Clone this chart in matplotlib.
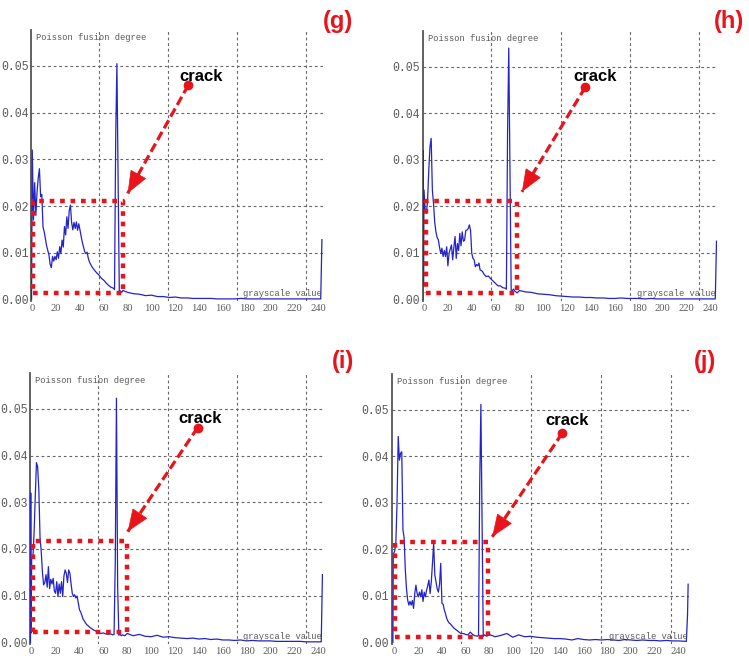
import matplotlib
matplotlib.use('Agg')
import matplotlib.pyplot as plt

# ---------------- data ----------------
gray_x = [0, 1, 2, 3, 4, 5, 6, 7, 8, 9,
          10, 11, 12, 13, 14, 15, 16, 17, 18, 19,
          20, 21, 22, 23, 24, 25, 26, 27, 28, 29,
          30, 31, 32, 33, 34, 35, 36, 37, 38, 39,
          40, 41, 42, 43, 44, 45, 46, 47, 48, 49,
          50, 52, 54, 56, 58, 60, 62, 64, 66, 68,
          69, 70, 71, 72, 73, 74, 75, 76, 78, 80,
          85, 90, 95, 100, 105, 110, 115, 120, 125, 130,
          135, 140, 145, 150, 155, 160, 165, 170, 175, 180,
          185, 190, 195, 200, 205, 210, 215, 220, 225, 230,
          235, 240]

g_y = [0.032, 0.017, 0.025, 0.018, 0.023, 0.026, 0.028, 0.022, 0.0225, 0.0155,
       0.0145, 0.013, 0.0115, 0.0105, 0.0095, 0.0075, 0.0068, 0.0092, 0.0082, 0.0092,
       0.0085, 0.0102, 0.0088, 0.0113, 0.0098, 0.0127, 0.0112, 0.0156, 0.0138, 0.0177,
       0.0152, 0.019, 0.0202, 0.0165, 0.0149, 0.0165, 0.0152, 0.0166, 0.0148, 0.0162,
       0.0149, 0.0135, 0.0122, 0.0112, 0.0102, 0.0098, 0.0101, 0.0088, 0.008, 0.0075,
       0.007, 0.0063, 0.0057, 0.0052, 0.0045, 0.0041, 0.0035, 0.003, 0.0026, 0.0024,
       0.0021, 0.035, 0.0505, 0.026, 0.0016, 0.0018, 0.0015, 0.0019, 0.0017, 0.0015,
       0.0012, 0.0011, 0.0008, 0.0009, 0.0006, 0.0006, 0.0004, 0.0005, 0.0003, 0.0003,
       0.0002, 0.0002, 0.0002, 0.0002, 0.0001, 0.0001, 0.0001, 0.0001, 0.0002, 0.0001,
       0.0001, 0.0001, 0.0001, 0.0001, 0.0001, 0.0001, 0.0001, 0.0001, 0.0001, 0.0001,
       0.0001, 0.0001]

h_y = [0.0235, 0.019, 0.0185, 0.0213, 0.0278, 0.0328, 0.0346, 0.0235, 0.0205, 0.0165,
       0.0145, 0.0133, 0.0128, 0.0112, 0.0099, 0.011, 0.0092, 0.0105, 0.0092, 0.0113,
       0.0072, 0.0099, 0.0108, 0.0117, 0.0085, 0.0112, 0.0135, 0.0088, 0.012, 0.0105,
       0.0142, 0.0115, 0.0145, 0.0125, 0.0127, 0.0148, 0.0149, 0.0152, 0.016, 0.0148,
       0.0099, 0.0088, 0.0085, 0.007, 0.0075, 0.0072, 0.0078, 0.0063, 0.0062, 0.006,
       0.0055, 0.0049, 0.005, 0.0044, 0.0039, 0.0034, 0.0029, 0.0029, 0.0025, 0.0024,
       0.0022, 0.036, 0.054, 0.028, 0.002, 0.0019, 0.0022, 0.0018, 0.0014, 0.0019,
       0.0016, 0.0015, 0.0012, 0.0011, 0.001, 0.0008, 0.0007, 0.0006, 0.0005, 0.0005,
       0.0004, 0.0004, 0.0003, 0.0003, 0.0002, 0.0002, 0.0003, 0.0002, 0.0002, 0.0002,
       0.0001, 0.0002, 0.0001, 0.0001, 0.0001, 0.0001, 0.0001, 0.0001, 0.0001, 0.0001,
       0.0001, 0.0001]

i_y = [0.0184, 0.018, 0.0234, 0.0312, 0.0385, 0.0376, 0.0326, 0.0225, 0.0195, 0.015,
       0.0123, 0.0128, 0.0145, 0.0118, 0.0162, 0.0115, 0.0135, 0.0125, 0.0137, 0.011,
       0.0105, 0.013, 0.0098, 0.0125, 0.0105, 0.013, 0.0098, 0.0142, 0.0155, 0.0148,
       0.0128, 0.0155, 0.0148, 0.0125, 0.0105, 0.0098, 0.0102, 0.0095, 0.0099, 0.0085,
       0.007, 0.0065, 0.0058, 0.005, 0.0046, 0.0042, 0.0038, 0.0036, 0.0034, 0.0031,
       0.003, 0.0026, 0.0024, 0.0021, 0.0019, 0.002, 0.0018, 0.0017, 0.0018, 0.0016,
       0.0017, 0.017, 0.0523, 0.012, 0.0015, 0.0018, 0.0014, 0.0016, 0.0014, 0.0019,
       0.0014, 0.0017, 0.0013, 0.0012, 0.0015, 0.0011, 0.0012, 0.001, 0.0009, 0.0008,
       0.0009, 0.0007, 0.0008, 0.0006, 0.0007, 0.0005, 0.0005, 0.0004, 0.0005, 0.0003,
       0.0004, 0.0003, 0.0003, 0.0003, 0.0002, 0.0002, 0.0002, 0.0002, 0.0002, 0.0001,
       0.0001, 0.0001]

j_y = [0.0196, 0.0215, 0.03, 0.0443, 0.0392, 0.0407, 0.041, 0.0242, 0.0225, 0.0156,
       0.0115, 0.0091, 0.008, 0.0088, 0.008, 0.009, 0.0073, 0.0105, 0.0123, 0.0105,
       0.0098, 0.0108, 0.0098, 0.0113, 0.0088, 0.0108, 0.0098, 0.0112, 0.0122, 0.0134,
       0.0105, 0.013, 0.017, 0.0213, 0.0145, 0.013, 0.0115, 0.0108, 0.0125, 0.017,
       0.0084, 0.0082, 0.007, 0.0062, 0.0052, 0.0046, 0.0042, 0.004, 0.0037, 0.0034,
       0.0031, 0.0027, 0.0023, 0.0019, 0.0019, 0.0017, 0.0016, 0.0022, 0.0017, 0.0014,
       0.0014, 0.0013, 0.0015, 0.034, 0.0512, 0.026, 0.0013, 0.0016, 0.0013, 0.0017,
       0.0012, 0.0015, 0.0019, 0.0011, 0.0016, 0.0012, 0.0013, 0.0011, 0.001, 0.0009,
       0.0008, 0.0008, 0.0007, 0.0005, 0.0008, 0.0006, 0.0005, 0.0006, 0.0005, 0.0006,
       0.0005, 0.0004, 0.0006, 0.0005, 0.0004, 0.0005, 0.0004, 0.0004, 0.0003, 0.0004,
       0.0003, 0.0003]

# first and last bins (drawn at the axis edges)
g_lead_x, g_lead_y = [-0.6], [0.0]
h_lead_x, h_lead_y = [-1.0, -0.8, -0.4], [0.0, 0.032, 0.003]
i_lead_x, i_lead_y = [-1.0, -0.8, -0.5], [0.0, 0.032, 0.002]
j_lead_x, j_lead_y = [-1.5, -1.2], [0.0, 0.019]
g_edge_x, g_edge_y = [242, 243], [0.0001, 0.0128]
h_edge_x, h_edge_y = [244, 245], [0.0001, 0.0125]
i_edge_x, i_edge_y = [242.5, 243.5], [0.0001, 0.0145]
j_edge_x, j_edge_y = [247, 248, 248.5], [0.0002, 0.006, 0.0125]

# crack annotation: dotted box (x0, x1, y0, y1), dot, arrow tip, label
g_box, g_dot, g_tip, g_txt = (0.9, 75.8, 0.0013, 0.021), (130.9, 0.0459), (80.0, 0.0227), (141.5, 0.0478)
h_box, h_dot, h_tip, h_txt = (1.4, 77.6, 0.0014, 0.0211), (135.1, 0.0456), (82.0, 0.0231), (143.2, 0.0478)
i_box, i_dot, i_tip, i_txt = (1.4, 79.5, 0.0023, 0.0217), (139.0, 0.046), (80.4, 0.0237), (141.0, 0.048)
j_box, j_dot, j_tip, j_txt = (0.0, 79.3, 0.0011, 0.0216), (141.9, 0.045), (82.6, 0.0227), (145.6, 0.0477)

yticks = [0.0, 0.01, 0.02, 0.03, 0.04, 0.05]
xticks = [0, 20, 40, 60, 80, 100, 120, 140, 160, 180, 200, 220, 240]

RED = '#e8141b'
BLUE = '#2323c8'
GRAY = '#5a5a5a'

fig = plt.figure(figsize=(7.49, 6.59), dpi=100)


def draw_panel(rect, xlim, lx, ly, yv, ex, ey, box, dot, tip, txt, tag, tagpos):
    ax = fig.add_axes(rect)
    ax.set_xlim(xlim)
    ax.set_ylim(-0.0004, 0.0577)

    # grid: dashed gray lines
    for yy in yticks[1:]:
        ax.axhline(yy, color='#666666', lw=0.8, ls=(0, (2.5, 2.5)), zorder=1)
    for f in [0.232, 0.468, 0.704, 0.94]:
        ax.plot([f, f], [0, 1], transform=ax.transAxes, color='#666666',
                lw=0.8, ls=(0, (2.5, 2.5)), zorder=1)

    ax.plot(lx + gray_x + ex, ly + yv + ey, color=BLUE, lw=0.9, zorder=3)

    ax.set_yticks(yticks)
    ax.set_yticklabels(['%.2f' % v for v in yticks], family='Liberation Mono',
                       fontsize=8.3, color=GRAY)
    ax.set_xticks(xticks)
    ax.set_xticklabels([str(v) for v in xticks], family='Liberation Serif',
                       fontsize=7.6, color=GRAY)
    ax.tick_params(length=0, pad=2)
    for s in ['top', 'right', 'bottom']:
        ax.spines[s].set_visible(False)
    ax.spines['left'].set_color('#555555')
    ax.spines['left'].set_linewidth(1.3)

    ax.text(0.017, 0.988, 'Poisson fusion degree', transform=ax.transAxes,
            ha='left', va='top', family='Liberation Mono', fontsize=6.3, color=GRAY)
    ax.text(0.995, 0.012, 'grayscale value', transform=ax.transAxes,
            ha='right', va='bottom', family='Liberation Mono', fontsize=6.3, color=GRAY)

    # dotted red box
    x0, x1, y0, y1 = box
    ax.plot([x0, x1, x1, x0, x0], [y0, y0, y1, y1, y0], color=RED, lw=3.2,
            ls=(0, (1.05, 1.3)), clip_on=False, zorder=4)

    # dashed arrow from the dot to the box corner
    ax.plot([dot[0], tip[0]], [dot[1], tip[1]], color=RED, lw=2.3,
            ls=(0, (2.9, 1.3)), zorder=5)
    base = (tip[0] + 0.17 * (dot[0] - tip[0]), tip[1] + 0.17 * (dot[1] - tip[1]))
    ax.annotate('', xy=tip, xytext=base,
                arrowprops=dict(arrowstyle='-|>,head_length=1.25,head_width=0.5',
                                mutation_scale=12, color=RED, lw=0.5,
                                shrinkA=0, shrinkB=0), zorder=5)
    ax.plot([dot[0]], [dot[1]], 'o', color=RED, ms=6, zorder=6)
    ax.text(txt[0], txt[1], 'crack', ha='center', va='center', fontsize=12,
            fontweight='bold', family='Liberation Sans', color='black', zorder=6)

    fig.text(tagpos[0], tagpos[1], tag, ha='center', va='center', fontsize=17,
             fontweight='bold', family='Liberation Sans', color=RED)
    return ax


draw_panel([0.0415, 0.5429, 0.3899, 0.4115], (-1, 244), g_lead_x, g_lead_y, g_y,
           g_edge_x, g_edge_y, g_box, g_dot, g_tip, g_txt, '(g)', (0.4513, 0.9681))
draw_panel([0.5645, 0.5429, 0.3929, 0.4103], (-1, 245.5), h_lead_x, h_lead_y, h_y,
           h_edge_x, h_edge_y, h_box, h_dot, h_tip, h_txt, '(h)', (0.9733, 0.9681))
draw_panel([0.0407, 0.0225, 0.3909, 0.4115], (-1, 244.2), i_lead_x, i_lead_y, i_y,
           i_edge_x, i_edge_y, i_box, i_dot, i_tip, i_txt, '(i)', (0.4579, 0.4522))
draw_panel([0.5230, 0.0225, 0.3970, 0.4097], (-2.5, 249.3), j_lead_x, j_lead_y, j_y,
           j_edge_x, j_edge_y, j_box, j_dot, j_tip, j_txt, '(j)', (0.9419, 0.4507))

fig.savefig('out.png', dpi=100)
